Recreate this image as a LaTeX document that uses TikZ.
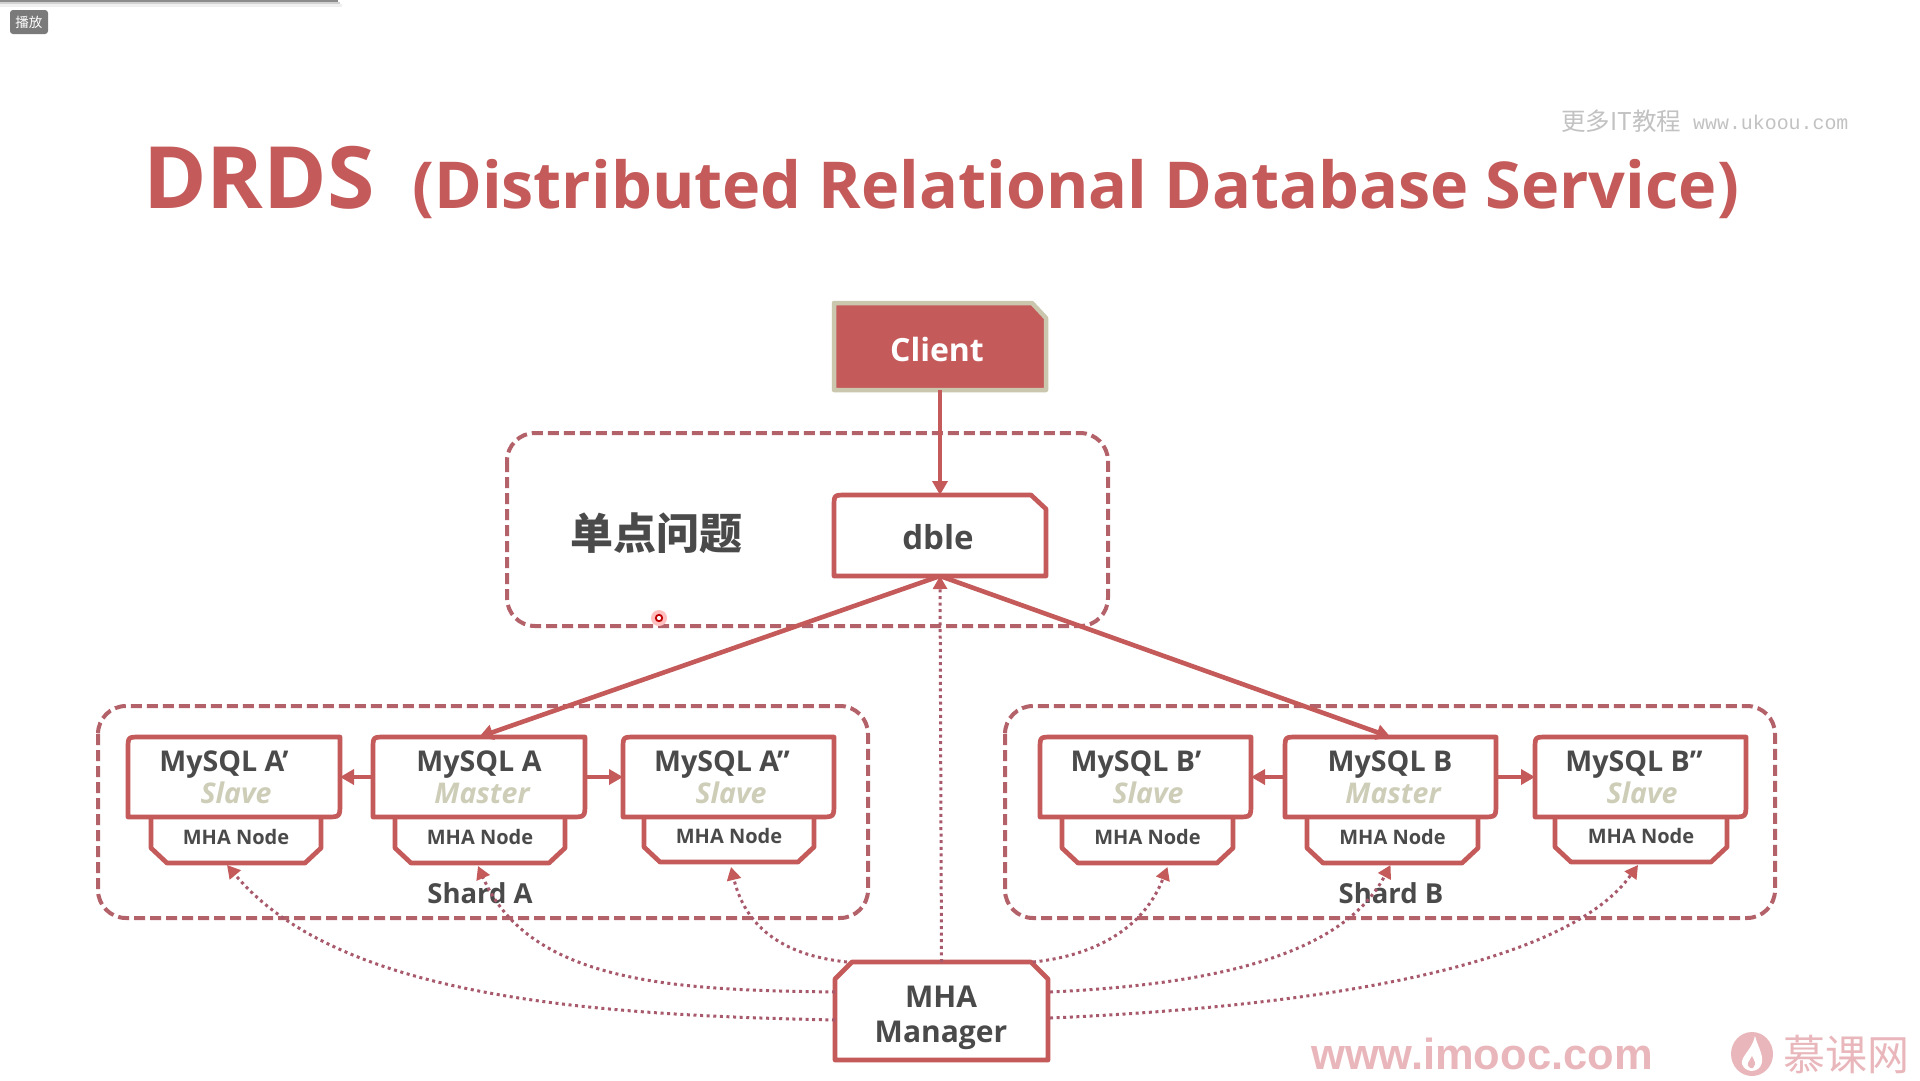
\documentclass[tikz,border=0pt]{standalone}
\usepackage{fontspec}
\setmainfont{Open Sans}
\newfontfamily\cjkfont{Noto Sans CJK SC}
\newfontfamily\monofont{Liberation Mono}
\newfontfamily\arialfont{Liberation Sans}
\usetikzlibrary{arrows.meta}
\definecolor{mainred}{HTML}{C55A5A}
\definecolor{dashred}{HTML}{B4626A}
\definecolor{dotred}{HTML}{A85A6C}
\definecolor{beige}{HTML}{CBC7AE}
\definecolor{roletext}{HTML}{CDCDB8}
\definecolor{darktext}{HTML}{4A4A4A}
\definecolor{markpink}{HTML}{E9B7BB}
\newcommand{\fs}[1]{\fontsize{#1}{#1}\selectfont}
\tikzset{
  grp/.style={draw=dashred,line width=4pt,dash pattern=on 11pt off 5pt,rounded corners=28pt},
  boxline/.style={draw=mainred,line width=4.7pt,fill=white,line join=round},
  solidarrow/.style={draw=mainred,line width=4.6pt,-{Triangle[length=14pt,width=15pt]}},
  dotarrow/.style={draw=dotred,line width=3pt,dash pattern=on 3pt off 3.6pt,-{Triangle[length=13pt,width=14pt,color=mainred]}},
  anchorbox/.style={inner sep=0pt,outer sep=0pt,draw=none},
  txt/.style={anchor=base,text=darktext,inner sep=0pt,font=\bfseries},
  role/.style={anchor=base,text=roletext,inner sep=0pt,font=\bfseries\itshape\fs{28.5}},
  mha/.style={anchor=base,text=darktext,inner sep=0pt,font=\bfseries\fs{20}},
  sqltxt/.style={anchor=base,text=darktext,inner sep=0pt,font=\bfseries\fs{28.6}}
}
% name, x1, x2, title, title centre, role, role centre
\newcommand{\sqlbox}[7]{%
  \draw[boxline] (#2,817) -- (#2,749) .. controls (#2,737) .. ({#2+12},737) -- (#3,737) -- (#3,803) .. controls (#3,817) .. ({#3-14},817) -- cycle;
  \node[anchorbox,minimum width={#3-#2},minimum height=80pt] (#1) at ({(#2+#3)/2},777) {};
  \node[sqltxt] (#1t) at (#5,771) {#4};
  \node[role] (#1r) at (#7,803) {#6};
}
% name, x1, x2, y bottom
\newcommand{\mhabox}[4]{%
  \draw[boxline] (#2,817) -- (#2,{#4-15}) -- ({#2+16},#4) -- ({#3-16},#4) -- (#3,{#4-15}) -- (#3,817);
  \node[anchorbox,minimum width={#3-#2},minimum height={#4-817}] (#1) at ({(#2+#3)/2},{(#4+817)/2}) {};
  \node[mha] (#1t) at ({(#2+#3)/2},{#4-19}) {MHA Node};
}
\begin{document}
\begin{tikzpicture}[x=1pt,y=-1pt]
\useasboundingbox (0,0) rectangle (1920,1080);
\fill[white] (0,0) rectangle (1920,1080);
% window shadow and tag
\fill[black!45] (0,0) rectangle (338,2);
\fill[black!18] (0,2) rectangle (340,4);
\fill[black!6] (0,4) rectangle (342,7);
\fill[black!52,rounded corners=3pt] (10,10) rectangle (48,34);
\node[inner sep=0pt,text=white,font=\cjkfont\fs{13.5}] (playtag) at (29,22) {播放};
% watermark top
\node[anchor=base west,inner sep=0pt,text=black!24,font=\cjkfont\fs{24.5}] (wmcn) at (1561,130) {更多IT教程};
\node[anchor=base west,inner sep=0pt,text=black!24,font=\monofont\fs{19.9}] (wmen) at (1693,129) {www.ukoou.com};
% title
\node[anchor=base west,inner sep=0pt,text=mainred,font=\bfseries\fs{86}] (title) at (143,208) {DRDS};
\node[anchor=base west,inner sep=0pt,text=mainred,font=\bfseries\fs{64.7}] (subtitle) at (412,208) {(Distributed Relational Database Service)};
% groups
\draw[grp] (507,433) rectangle (1108,626);
\draw[grp] (98,706) rectangle (868,918);
\draw[grp] (1005,706) rectangle (1775,918);
\node[inner sep=0pt,text=darktext,font=\cjkfont\bfseries\fs{43}] (spof) at (656,533) {单点问题};
% MHA nodes
\mhabox{nA1}{151}{321}{863}
\mhabox{nA}{395}{565}{863}
\mhabox{nA2}{644}{814}{862}
\mhabox{nB1}{1062}{1233}{863}
\mhabox{nB}{1307}{1478}{863}
\mhabox{nB2}{1555}{1727}{862}
% MySQL boxes
\sqlbox{mA1}{128}{340}{MySQL A’}{224}{Slave}{236}
\sqlbox{mA}{373}{585}{MySQL A}{479}{Master}{482}
\sqlbox{mA2}{623}{834}{MySQL A”}{722}{Slave}{731}
\sqlbox{mB1}{1040}{1251}{MySQL B’}{1136}{Slave}{1148}
\sqlbox{mB}{1285}{1496}{MySQL B}{1390}{Master}{1393}
\sqlbox{mB2}{1535}{1746}{MySQL B”}{1634}{Slave}{1642}
% client
\draw[draw=beige,line width=4.5pt,fill=mainred,line join=round] (834,303) -- (1032,303) -- (1046,318) -- (1046,390) -- (834,390) -- cycle;
\node[anchorbox,minimum width=212pt,minimum height=87pt] (client) at (940,346) {};
\node[txt,text=white,font=\bfseries\fs{32}] (clientt) at (937,361) {Client};
% dble
\draw[boxline] (834,576) -- (834,507) .. controls (834,495) .. (846,495) -- (1031,495) -- (1046,509) -- (1046,576) -- cycle;
\node[anchorbox,minimum width=212pt,minimum height=81pt] (dble) at (940,535.5) {};
\node[txt,font=\bfseries\fs{33}] (dblet) at (938,549) {dble};
% manager
\draw[boxline] (835,1060) -- (835,979) -- (852,962) -- (1031,962) -- (1048,979) -- (1048,1060) -- cycle;
\node[anchorbox,minimum width=213pt,minimum height=98pt] (mgr) at (941.5,1011) {};
\node[txt,font=\bfseries\fs{30}] (mgr1) at (941,1007) {MHA};
\node[txt,font=\bfseries\fs{30}] (mgr2) at (941,1042) {Manager};
\node[txt,font=\bfseries\fs{27.5}] (shardA) at (480,903) {Shard A};
\node[txt,font=\bfseries\fs{27.5}] (shardB) at (1391,903) {Shard B};
% connectors
\draw[solidarrow] (client.south) -- (dble.north);
\draw[solidarrow,shorten <=1pt] (dble.south) -- (mA.north);
\draw[solidarrow,shorten <=1pt] (dble.south) -- (mB.north);
\draw[solidarrow] (mA.west) -- (mA1.east);
\draw[solidarrow] (mA.east) -- (mA2.west);
\draw[solidarrow] (mB.west) -- (mB1.east);
\draw[solidarrow] (mB.east) -- (mB2.west);
\draw[dotarrow] (mgr.north) -- (dble.south);
\coordinate (la) at (835,1020);
\coordinate (lb) at (835,992);
\coordinate (lc) at (847,962);
\coordinate (ra) at (1050,1018);
\coordinate (rb) at (1050,992);
\coordinate (rc) at (1033,962);
\coordinate (tA1) at ([xshift=-9pt,yshift=-2pt]nA1.south);
\coordinate (tA) at ([xshift=-2pt,yshift=-3pt]nA.south);
\coordinate (tA2) at ([yshift=-5pt,xshift=2pt]nA2.south);
\coordinate (tB1) at ([yshift=-4pt,xshift=20pt]nB1.south);
\coordinate (tB) at ([xshift=-2pt,yshift=-2pt]nB.south);
\coordinate (tB2) at ([xshift=-3pt,yshift=-3pt]nB2.south);
\draw[dotarrow] (la) .. controls (600,1015) and (340,1000) .. (tA1);
\draw[dotarrow] (lb) .. controls (680,990) and (530,985) .. (tA);
\draw[dotarrow] (lc) .. controls (780,955) and (745,925) .. (tA2);
\draw[dotarrow] (rc) .. controls (1100,955) and (1145,925) .. (tB1);
\draw[dotarrow] (rb) .. controls (1200,985) and (1340,960) .. (tB);
\draw[dotarrow] (ra) .. controls (1350,1005) and (1570,960) .. (tB2);
% cursor
\fill[red!25] (659,618) circle (8pt);
\draw[red!75!black,line width=1.8pt,fill=white] (659,618) circle (3.2pt);
% bottom watermark
\node[anchor=base west,inner sep=0pt,text=markpink,font=\arialfont\bfseries\fs{43.5}] (imooc) at (1311,1069) {www.imooc.com};
\fill[markpink] (1752,1054) ellipse (21pt and 22pt);
\fill[white] (1755,1036) .. controls (1758,1048) and (1766,1058) .. (1760,1067) .. controls (1755,1073) and (1745,1072) .. (1742,1064) .. controls (1740,1057) and (1752,1050) .. (1755,1036) -- cycle;
\fill[markpink] (1752,1056) .. controls (1754,1061) and (1757,1063) .. (1753,1068) .. controls (1750,1069) and (1747,1066) .. (1748,1063) .. controls (1749,1060) and (1751,1059) .. (1752,1056) -- cycle;
\node[anchor=base west,inner sep=0pt,text=markpink,font=\cjkfont\fs{42}] (imooccn) at (1783,1070) {慕课网};
\end{tikzpicture}
\end{document}
